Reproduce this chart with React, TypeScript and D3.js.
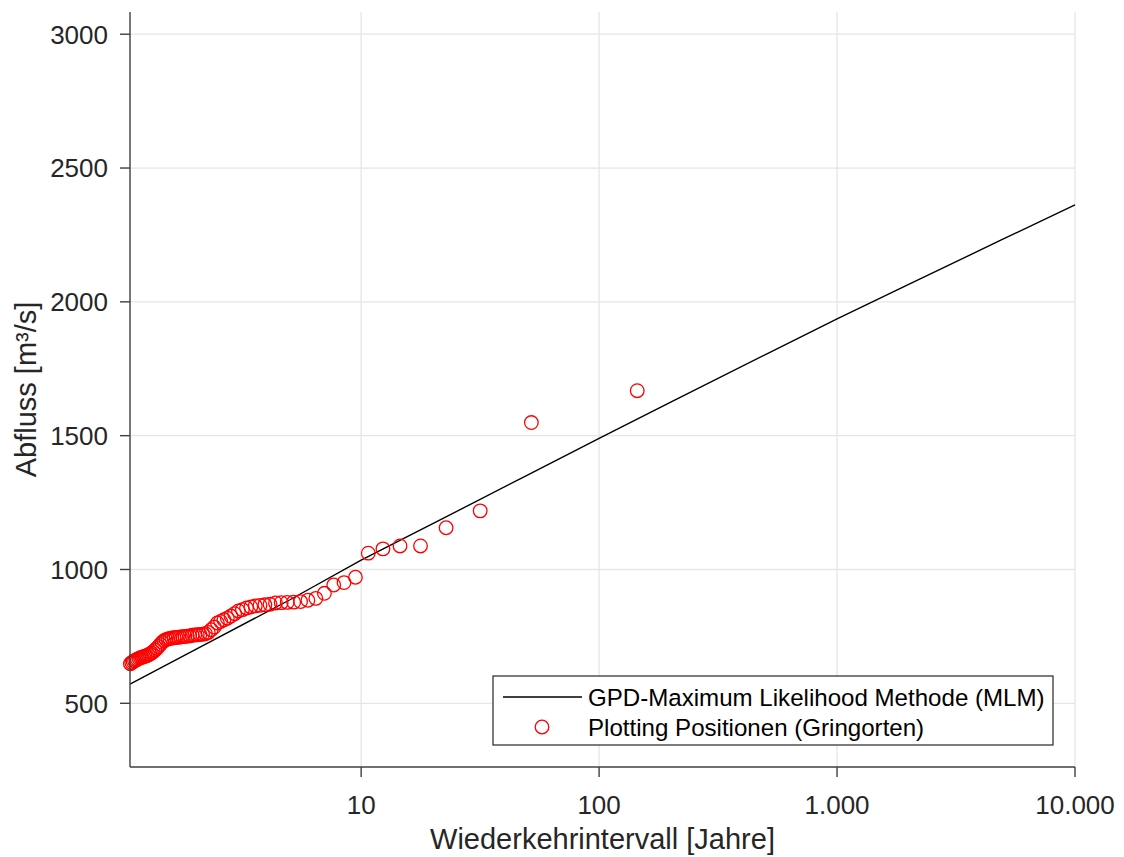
import React from "react";
import * as d3 from "d3";

// GPD fit (Maximum Likelihood): return period [years] -> discharge [m³/s]
const gpdReturnPeriod = [1.068, 2, 5, 10, 20, 50, 100, 200, 500, 1000, 2000, 5000, 10000];
const gpdDischarge = [572, 700, 886, 1035, 1171, 1353, 1490, 1625, 1803, 1936, 2065, 2235, 2362];

// Gringorten plotting positions, ascending return period
const ppReturnPeriod = [
  1.072, 1.0864, 1.1011, 1.1163, 1.1319, 1.148, 1.1645, 1.1814, 1.1989, 1.2169,
  1.2355, 1.2546, 1.2744, 1.2948, 1.3158, 1.3375, 1.36, 1.3832, 1.4072, 1.4321,
  1.4579, 1.4846, 1.5123, 1.5411, 1.571, 1.6021, 1.6344, 1.668, 1.7031, 1.7397,
  1.7779, 1.8178, 1.8595, 1.9032, 1.949, 1.997, 2.0475, 2.1006, 2.1565, 2.2155,
  2.2778, 2.3438, 2.4136, 2.4877, 2.5665, 2.6505, 2.7402, 2.8361, 2.939, 3.0497,
  3.169, 3.298, 3.438, 3.5904, 3.757, 3.9397, 4.1411, 4.3642, 4.6128, 4.8913,
  5.2057, 5.5632, 5.9735, 6.449, 7.0069, 7.6705, 8.4728, 9.4626, 10.714, 12.348,
  14.568, 17.763, 22.753, 31.641, 51.923, 144.64,
];
const ppDischarge = [
  648, 652, 656, 659, 662, 665, 668, 670, 672, 674,
  676, 678, 681, 684, 688, 693, 699, 705, 712, 720,
  728, 734, 738, 740, 742, 744, 745, 746, 747, 748,
  749, 750, 751, 752, 754, 755, 756, 757, 758, 760,
  765, 775, 785, 800, 806, 812, 818, 826, 835, 845,
  850, 856, 860, 864, 866, 868, 870, 875, 876, 877,
  878, 880, 885, 892, 911, 942, 951, 971, 1061, 1077,
  1088, 1088, 1156, 1219, 1549, 1668,
];

const xTicks = [10, 100, 1000, 10000];
const xTickLabels = ["10", "100", "1.000", "10.000"];
const yTicks = [500, 1000, 1500, 2000, 2500, 3000];

const legendLabels = ["GPD-Maximum Likelihood Methode (MLM)", "Plotting Positionen (Gringorten)"];

const W = 1124;
const H = 857;
const plot = { left: 130, right: 1075, top: 12, bottom: 767 };
const FONT = "'Liberation Sans', Arial, Helvetica, sans-serif";
const TEXT = "#262626";
const GRID = "#e6e6e6";
const MARKER_R = 6.8;

export default function App() {
  const x = d3.scaleLog().domain([1.068, 10000]).range([plot.left, plot.right]);
  const y = d3.scaleLinear().domain([262, 3083]).range([plot.bottom, plot.top]);

  const line = d3
    .line<number>()
    .x((_, i) => x(gpdReturnPeriod[i]))
    .y((d) => y(d));

  const lg = { x: 493, y: 676, w: 560, h: 69 };

  return (
    <svg
      width={W}
      height={H}
      style={{ position: "absolute", left: 0, top: 0, background: "#fff" }}
      fontFamily={FONT}
    >
      <rect width={W} height={H} fill="#fff" />
      {/* grid */}
      <g stroke={GRID} strokeWidth={1.3}>
        {xTicks.map((t) => (
          <line key={"gx" + t} x1={x(t)} x2={x(t)} y1={plot.top} y2={plot.bottom} />
        ))}
        {yTicks.map((t) => (
          <line key={"gy" + t} x1={plot.left} x2={plot.right} y1={y(t)} y2={y(t)} />
        ))}
      </g>

      {/* fitted curve */}
      <path d={line(gpdDischarge) || ""} fill="none" stroke="#000" strokeWidth={1.4} />

      {/* plotting positions */}
      <g fill="none" stroke="#ff0000" strokeWidth={1.3}>
        {ppDischarge.map((q, i) => (
          <circle key={i} cx={x(ppReturnPeriod[i])} cy={y(q)} r={MARKER_R} />
        ))}
      </g>

      {/* axes */}
      <g stroke="#404040" strokeWidth={1.4} fill="none">
        <line x1={plot.left} x2={plot.left} y1={plot.top} y2={plot.bottom} />
        <line x1={plot.left} x2={plot.right} y1={plot.bottom} y2={plot.bottom} />
        {yTicks.map((t) => (
          <line key={"ty" + t} x1={plot.left - 10} x2={plot.left} y1={y(t)} y2={y(t)} />
        ))}
        {xTicks.map((t) => (
          <line key={"tx" + t} x1={x(t)} x2={x(t)} y1={plot.bottom} y2={plot.bottom + 10} />
        ))}
      </g>

      <g fill={TEXT} fontSize={26}>
        {yTicks.map((t) => (
          <text key={"ly" + t} x={108} y={y(t) + 9.3} textAnchor="end">
            {t}
          </text>
        ))}
        {xTicks.map((t, i) => (
          <text key={"lx" + t} x={x(t)} y={814} textAnchor="middle">
            {xTickLabels[i]}
          </text>
        ))}
      </g>

      <text x={(plot.left + plot.right) / 2} y={849} textAnchor="middle" fontSize={29} fill={TEXT}>
        Wiederkehrintervall [Jahre]
      </text>
      <text
        transform={`translate(36, ${(plot.top + plot.bottom) / 2}) rotate(-90)`}
        textAnchor="middle"
        fontSize={29}
        fill={TEXT}
      >
        Abfluss [m³/s]
      </text>

      {/* legend */}
      <g>
        <rect x={lg.x} y={lg.y} width={lg.w} height={lg.h} fill="#fff" stroke="#262626" strokeWidth={1.2} />
        <line x1={503} x2={582} y1={697} y2={697} stroke="#000" strokeWidth={1.4} />
        <circle cx={542} cy={727} r={MARKER_R} fill="none" stroke="#ff0000" strokeWidth={1.3} />
        <text x={588} y={705.5} fontSize={24.1} fill="#000">
          {legendLabels[0]}
        </text>
        <text x={588} y={735.5} fontSize={24.1} fill="#000">
          {legendLabels[1]}
        </text>
      </g>
    </svg>
  );
}
